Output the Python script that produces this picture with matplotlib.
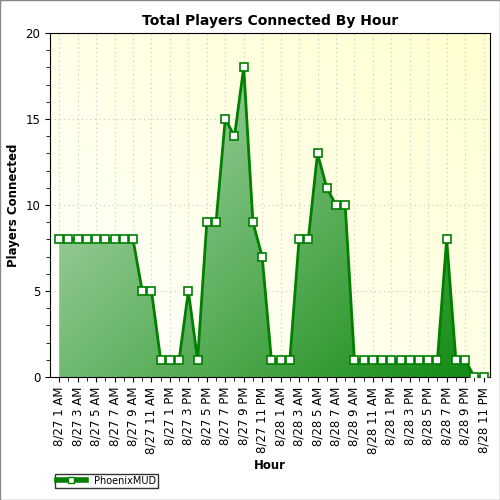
import matplotlib
matplotlib.use("Agg")
import matplotlib.pyplot as plt
import numpy as np
from matplotlib.colors import LinearSegmentedColormap
from matplotlib.lines import Line2D

values = [8,8,8,8,8,8,8,8,8,5,5,1,1,1,5,1,9,9,15,14,18,9,7,
          1,1,1,8,8,13,11,10,10,1,1,1,1,1,1,1,1,1,1,8,1,1,0,0]
def lab(i):
    day = 27 if i < 23 else 28
    h = (i + 1) % 24
    hh = 12 if h % 12 == 0 else h % 12
    return f"8/{day} {hh} {'AM' if h < 12 else 'PM'}"
labels = [lab(i) for i in range(len(values))]
x = np.arange(len(values))

fig = plt.figure(figsize=(5, 5), dpi=100)
ax = fig.add_axes([0.1, 0.246, 0.88, 0.688])
ax.set_xlim(-1, len(values) - 0.3)
ax.set_ylim(0, 20)

# background gradient
bg = LinearSegmentedColormap.from_list("bg", ["#ffffff", "#ffffd0"])
gx, gy = np.meshgrid(np.linspace(0, 1, 100), np.linspace(0, 1, 100))
ax.imshow(gx * 0.5 + gy * 0.5, cmap=bg, origin="lower", aspect="auto",
          extent=[-1, len(values) - 0.3, 0, 20], zorder=0)
ax.grid(True, color="#c8c8c8", linestyle=(0, (1, 3)), linewidth=0.8, zorder=1)

# gradient fill clipped to area
fc = LinearSegmentedColormap.from_list("fc", ["#c0e0c0", "#118a11"])
poly = ax.fill_between(x, values, 0, color="none", zorder=2)
img = ax.imshow(gx * 0.55 + (1 - gy) * 0.45, cmap=fc, origin="lower", aspect="auto",
                extent=[0, len(values) - 1, 0, 20], zorder=2)
img.set_clip_path(poly.get_paths()[0], transform=ax.transData)
ax.plot(x, values, color="#007f00", lw=2, marker="s", ms=5.5, mfc="white",
        mec="#007f00", mew=1.2, zorder=3)

ax.set_xticks(x[::2])
ax.set_xticklabels(labels[::2], rotation=90, fontsize=8.5)
ax.set_xticks(x, minor=True)
ax.set_yticks(range(0, 21, 5))
ax.set_yticks(range(0, 21), minor=True)
ax.tick_params(axis="both", labelsize=8.5, direction="out")
ax.tick_params(which="minor", length=3)
ax.set_title("Total Players Connected By Hour", fontsize=10, fontweight="bold")
ax.set_xlabel("Hour", fontsize=8.5, fontweight="bold")
ax.set_ylabel("Players Connected", fontsize=8.5, fontweight="bold")

h = Line2D([], [], color="#007f00", lw=4, marker="s", ms=5, mfc="white", mec="#007f00")
fig.legend([h], ["PhoenixMUD"], loc="lower left", bbox_to_anchor=(0.1, 0.015),
           fontsize=7, frameon=True, fancybox=False, edgecolor="black",
           borderpad=0.2, handlelength=3)
fig.patches.append(plt.Rectangle((0, 0), 1, 1, transform=fig.transFigure,
                                 fill=False, edgecolor="#888888", lw=1))
fig.savefig("out.png")
